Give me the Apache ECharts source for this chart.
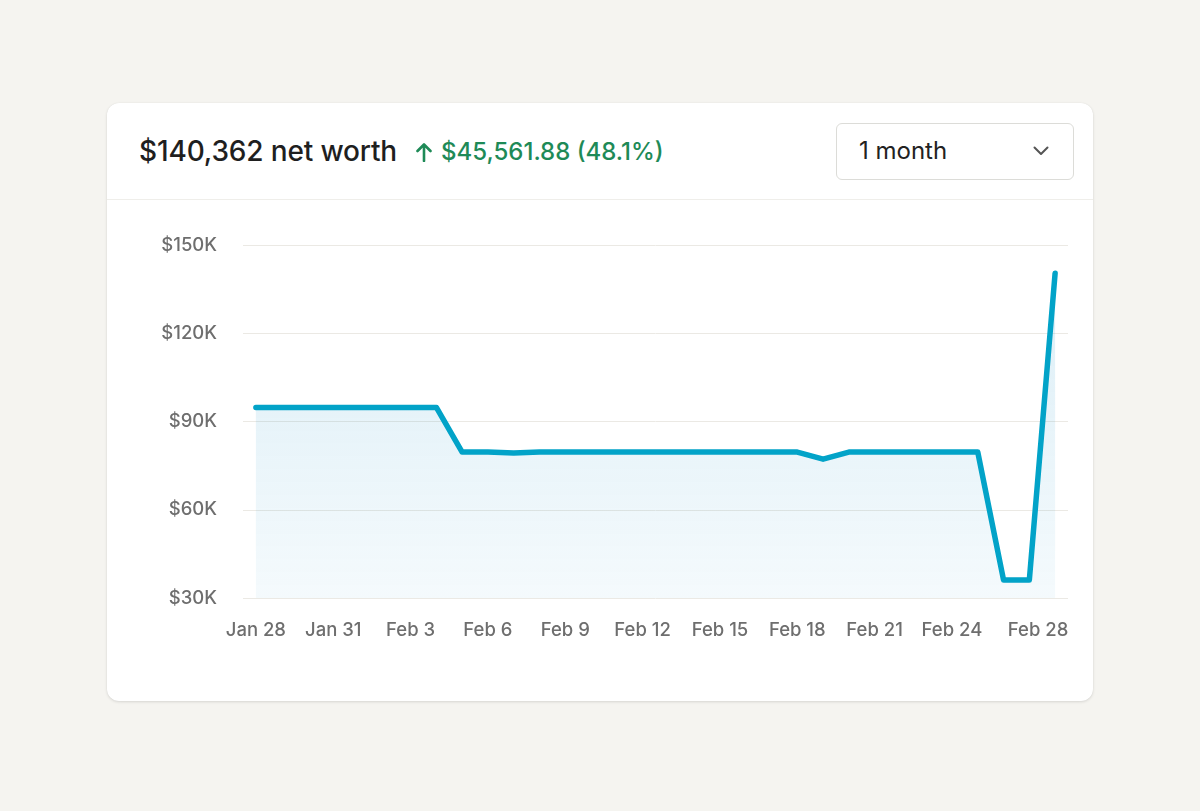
<!DOCTYPE html>
<html>
<head>
<meta charset="utf-8">
<script src="https://cdn.jsdelivr.net/npm/echarts@6/dist/echarts.min.js"></script>
<style>
  html, body { margin: 0; padding: 0; width: 1200px; height: 811px; background: #f5f4f0; overflow: hidden; font-family: Inter, "Noto Sans", sans-serif; }
  .card { position: absolute; left: 107px; top: 103px; width: 986px; height: 598px; background: #fff; border-radius: 12px; box-shadow: 0 1px 3px rgba(0,0,0,0.12), 0 0 1px rgba(0,0,0,0.08); }
  .header { position: absolute; left: 0; top: 0; width: 986px; height: 96px; border-bottom: 1px solid #efeeea; }
  .title { position: absolute; left: 32px; top: 31px; font-size: 28px; font-weight: 500; color: #1f1f1f; letter-spacing: -0.15px; white-space: nowrap; }
  .change { position: absolute; left: 309px; top: 34px; font-size: 24px; font-weight: 500; color: #1e8a57; white-space: nowrap; }
  .change svg { vertical-align: -2px; margin-right: 9px; }
  .select { position: absolute; left: 729px; top: 20px; width: 238px; height: 57px; border: 1px solid #dcdcd8; border-radius: 6px; box-sizing: border-box; }
  .select .txt { position: absolute; left: 22px; top: 12px; font-size: 24px; color: #222; }
  .select svg { position: absolute; left: 196px; top: 22px; }
  #chart { position: absolute; left: 0; top: 0; width: 1200px; height: 811px; }
</style>
</head>
<body>
<div class="card">
  <div class="header">
    <div class="title">$140,362 net worth</div>
    <div class="change"><svg width="16" height="20" viewBox="0 0 16 20"><path d="M8 19 V3 M1.5 9 L8 2.5 L14.5 9" stroke="#1e8a57" stroke-width="2.6" fill="none" stroke-linecap="round" stroke-linejoin="round"/></svg>$45,561.88 (48.1%)</div>
    <div class="select"><span class="txt">1 month</span><svg width="16" height="10" viewBox="0 0 16 10"><path d="M1.5 1.5 L8 8 L14.5 1.5" stroke="#555" stroke-width="2" fill="none" stroke-linecap="round" stroke-linejoin="round"/></svg></div>
  </div>
</div>
<div id="chart"></div>
<script>
const categories = ['Jan 28','Jan 29','Jan 30','Jan 31','Feb 1','Feb 2','Feb 3','Feb 4','Feb 5','Feb 6','Feb 7','Feb 8','Feb 9','Feb 10','Feb 11','Feb 12','Feb 13','Feb 14','Feb 15','Feb 16','Feb 17','Feb 18','Feb 19','Feb 20','Feb 21','Feb 22','Feb 23','Feb 24','Feb 25','Feb 26','Feb 27','Feb 28'];
const netWorth = [94800,94800,94800,94800,94800,94800,94800,94800,79600,79600,79300,79600,79600,79600,79600,79600,79600,79600,79600,79600,79600,79600,77200,79600,79600,79600,79600,79600,79600,36100,36100,140362];
const labelIndices = [0,3,6,9,12,15,18,21,24,27,31];
const yMin = 30000, yMax = 150000, yStep = 30000;

const chart = echarts.init(document.getElementById('chart'), null, { renderer: 'canvas' });
const labelColor = '#6e6e6e';
const fs = 18.5;
chart.setOption({
  animation: false,
  backgroundColor: 'transparent',
  grid: { left: 243, top: 245, width: 825, height: 353, containLabel: false },
  xAxis: {
    type: 'category',
    data: categories,
    boundaryGap: true,
    axisLine: { show: false },
    axisTick: { show: false },
    axisLabel: {
      interval: function (i) { return labelIndices.indexOf(i) >= 0; },
      color: labelColor, fontSize: fs, fontWeight: 500, fontFamily: 'Inter', margin: 23,
      formatter: function (v, i) { return i === categories.length - 1 ? '{last|' + v + '}' : v; },
      rich: { last: { color: labelColor, fontSize: fs, fontWeight: 500, fontFamily: 'Inter', padding: [0, 34, 0, 0] } }
    }
  },
  yAxis: {
    type: 'value', min: yMin, max: yMax, interval: yStep,
    axisLine: { show: false }, axisTick: { show: false },
    splitLine: { lineStyle: { color: '#ebe9e4', width: 1 } },
    axisLabel: {
      color: labelColor, fontSize: fs, fontWeight: 500, fontFamily: 'Inter', margin: 26,
      formatter: function (v) { return '$' + (v / 1000) + 'K'; }
    }
  },
  series: [{
    type: 'line',
    data: netWorth,
    symbol: 'none',
    lineStyle: { color: '#02a3c8', width: 5.5, cap: 'round', join: 'round' },
    areaStyle: {
      origin: 'start',
      color: new echarts.graphic.LinearGradient(0, 0, 0, 1, [
        { offset: 0, color: 'rgba(3,135,195,0.2)' },
        { offset: 1, color: 'rgba(3,135,195,0.06)' }
      ])
    }
  }]
});
</script>
</body>
</html>
